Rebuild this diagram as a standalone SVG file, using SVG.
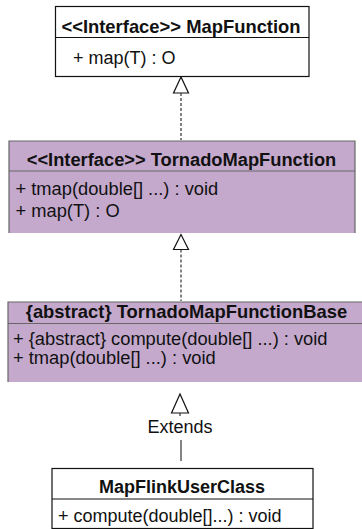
<svg xmlns="http://www.w3.org/2000/svg" width="362" height="529" viewBox="0 0 362 529">
<style>
text{font-family:"Liberation Sans",Arial,Helvetica,sans-serif;font-size:18px;fill:#111}
.t{font-weight:bold;text-anchor:middle}
.box{fill:#fff;stroke:#111;stroke-width:1.2}
.pfill{fill:#C4A9CD;stroke:none}
.pedge{fill:none;stroke:#666;stroke-width:1.2}
.div{stroke:#666;stroke-width:1}
.dash{stroke:#333;stroke-width:1.2;stroke-dasharray:3 2;fill:none}
.solid{stroke:#333;stroke-width:1.2;fill:none}
.tri{fill:#fff;stroke:#111;stroke-width:1.2}
</style>
<g id="connectors">
<polygon class="tri" points="181,77 173.5,93 188.5,93"/>
<line class="dash" x1="181" y1="93" x2="181" y2="140"/>
<polygon class="tri" points="181,234.5 173.5,249.5 188.5,249.5"/>
<line class="dash" x1="181" y1="249.5" x2="181" y2="301"/>
<polygon class="tri" points="180,394 171.5,413 188.5,413"/>
<line class="solid" x1="180" y1="413" x2="180" y2="416"/>
<text x="180" y="433" text-anchor="middle">Extends</text>
<line class="solid" x1="181" y1="440" x2="181" y2="461"/>
</g>
<g id="MapFunction">
<rect class="box" x="55.5" y="6.5" width="253.5" height="70"/>
<line class="div" x1="55.5" y1="37.5" x2="309" y2="37.5" style="stroke:#111"/>
<text class="t" x="181" y="32.5" style="font-size:18.4px">&lt;&lt;Interface&gt;&gt; MapFunction</text>
<text x="73" y="63.5">+ map(T) : O</text>
</g>
<g id="TornadoMapFunction">
<rect class="pfill" x="9" y="141" width="346" height="92"/>
<path class="pedge" d="M9,233 V141 H355 V233"/>
<line class="div" x1="9" y1="171" x2="355" y2="171"/>
<text class="t" x="181.5" y="166" style="font-size:18.3px">&lt;&lt;Interface&gt;&gt; TornadoMapFunction</text>
<text x="15.5" y="195" style="font-size:18.3px">+ tmap(double[] ...) : void</text>
<text x="15.5" y="217" style="font-size:18.3px">+ map(T) : O</text>
</g>
<g id="TornadoMapFunctionBase">
<rect class="pfill" x="8" y="302" width="360" height="80"/>
<path class="pedge" d="M8,382 V302 H362"/>
<line class="div" x1="8" y1="323.5" x2="362" y2="323.5"/>
<text class="t" x="186.5" y="318" style="font-size:18.4px">{abstract} TornadoMapFunctionBase</text>
<text x="13" y="344.5" style="font-size:18.3px">+ {abstract} compute(double[] ...) : void</text>
<text x="13" y="364" style="font-size:18.3px">+ tmap(double[] ...) : void</text>
</g>
<g id="MapFlinkUserClass">
<rect class="box" x="52" y="468.5" width="261" height="60"/>
<line class="div" x1="52" y1="499" x2="313" y2="499" style="stroke:#111"/>
<text class="t" x="182" y="493">MapFlinkUserClass</text>
<text x="58" y="522">+ compute(double[]...) : void</text>
</g>
</svg>
